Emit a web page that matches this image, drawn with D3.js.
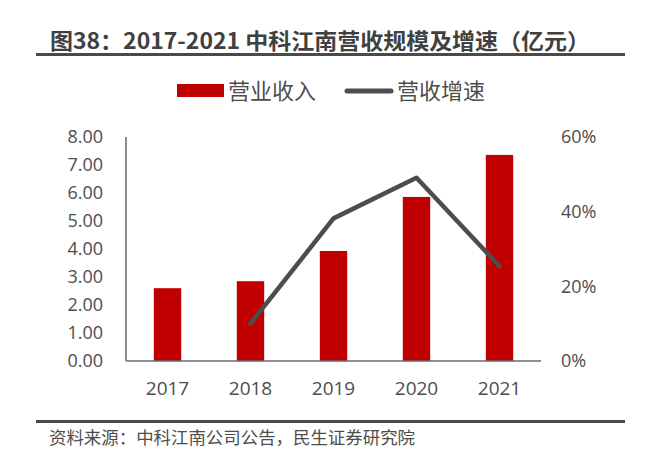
<!DOCTYPE html>
<html><head><meta charset="utf-8">
<script src="https://cdn.jsdelivr.net/npm/d3@7"></script>
<style>body{margin:0;background:#fff;} svg{display:block;}</style>
</head><body>
<svg id="c" width="647" height="457"></svg>
<script>
const years = ["2017","2018","2019","2020","2021"];
const revenue = [2.60, 2.85, 3.93, 5.86, 7.36];
const growth = [null, 0.10, 0.382, 0.491, 0.254];
const leftTicks = [0,1,2,3,4,5,6,7,8];
const rightTicks = [0,0.2,0.4,0.6];
const titleText = "图38：2017-2021 中科江南营收规模及增速（亿元）";
const sourceText = "资料来源：中科江南公司公告，民生证券研究院";
const legendLabels = ["营业收入","营收增速"];

const svg = d3.select("#c");
const txt = "#404040";
const txt2 = "#4d4d4d";
const cjk = "'Noto Sans CJK SC', 'Open Sans', sans-serif";
const num = "'Open Sans', 'Noto Sans', sans-serif";

// Title
svg.append("text").attr("x",50).attr("y",49).attr("font-family",cjk).attr("font-weight","bold")
  .attr("font-size",22).attr("fill",txt).attr("textLength",540).attr("lengthAdjust","spacingAndGlyphs").text(titleText);
svg.append("rect").attr("x",36).attr("y",53).attr("width",589).attr("height",3).attr("fill","#4a4a4a");
// Bottom rule + source
svg.append("rect").attr("x",36).attr("y",420).attr("width",589).attr("height",3).attr("fill","#4a4a4a");
svg.append("text").attr("x",49).attr("y",444).attr("font-family",cjk).attr("font-size",17)
  .attr("fill",txt2).attr("textLength",366).attr("lengthAdjust","spacingAndGlyphs").text(sourceText);

const x0 = 126, x1 = 541, yTop = 137, yBot = 361;
const x = d3.scaleBand().domain(years).range([x0,x1]).paddingInner(0.67).paddingOuter(0.335);
const yL = d3.scaleLinear().domain([0,8]).range([yBot,yTop]);
const yR = d3.scaleLinear().domain([0,0.6]).range([yBot,yTop]);

// Bars
svg.append("g").selectAll("rect").data(years).join("rect")
  .attr("x",d=>x(d)).attr("width",x.bandwidth())
  .attr("y",(d,i)=>yL(revenue[i])).attr("height",(d,i)=>yBot-yL(revenue[i]))
  .attr("fill","#C00000");

// Axes
const axL = svg.append("g").attr("transform",`translate(${x0},0)`)
  .call(d3.axisLeft(yL).tickValues(leftTicks).tickSize(0).tickPadding(23).tickFormat(d3.format(".2f")));
const axR = svg.append("g").attr("transform",`translate(${x1},0)`)
  .call(d3.axisRight(yR).tickValues(rightTicks).tickSize(0).tickPadding(20).tickFormat(d3.format(".0%")));
const axB = svg.append("g").attr("transform",`translate(0,${yBot})`)
  .call(d3.axisBottom(x).tickSize(0).tickPadding(21));
[axL,axR,axB].forEach(a=>{
  a.select(".domain").remove();
  a.selectAll("text").attr("font-family",num).attr("font-size",18).attr("fill",txt2);
});
axB.selectAll("text").attr("font-size",19);
svg.append("line").attr("x1",x0).attr("x2",x0).attr("y1",yTop).attr("y2",yBot).attr("stroke","#6b6b6b").attr("stroke-width",1.5);
svg.append("line").attr("x1",x0).attr("x2",x1).attr("y1",yBot).attr("y2",yBot).attr("stroke","#6b6b6b").attr("stroke-width",1.5);

// Line
const pts = years.map((d,i)=>[d,growth[i]]).filter(p=>p[1]!==null);
svg.append("path").datum(pts)
  .attr("d",d3.line().x(p=>x(p[0])+x.bandwidth()/2).y(p=>yR(p[1])))
  .attr("fill","none").attr("stroke","#4d4d4d").attr("stroke-width",4.5)
  .attr("stroke-linecap","round").attr("stroke-linejoin","round");

// Legend
const lg = svg.append("g");
lg.append("rect").attr("x",177).attr("y",84).attr("width",47).attr("height",13).attr("fill","#C00000");
lg.append("text").attr("x",228).attr("y",99).attr("font-family",cjk).attr("font-size",22).attr("fill",txt2).text(legendLabels[0]);
lg.append("line").attr("x1",347).attr("x2",391).attr("y1",91).attr("y2",91).attr("stroke","#4d4d4d").attr("stroke-width",5).attr("stroke-linecap","round");
lg.append("text").attr("x",397).attr("y",99).attr("font-family",cjk).attr("font-size",22).attr("fill",txt2).text(legendLabels[1]);
</script>
</body></html>
